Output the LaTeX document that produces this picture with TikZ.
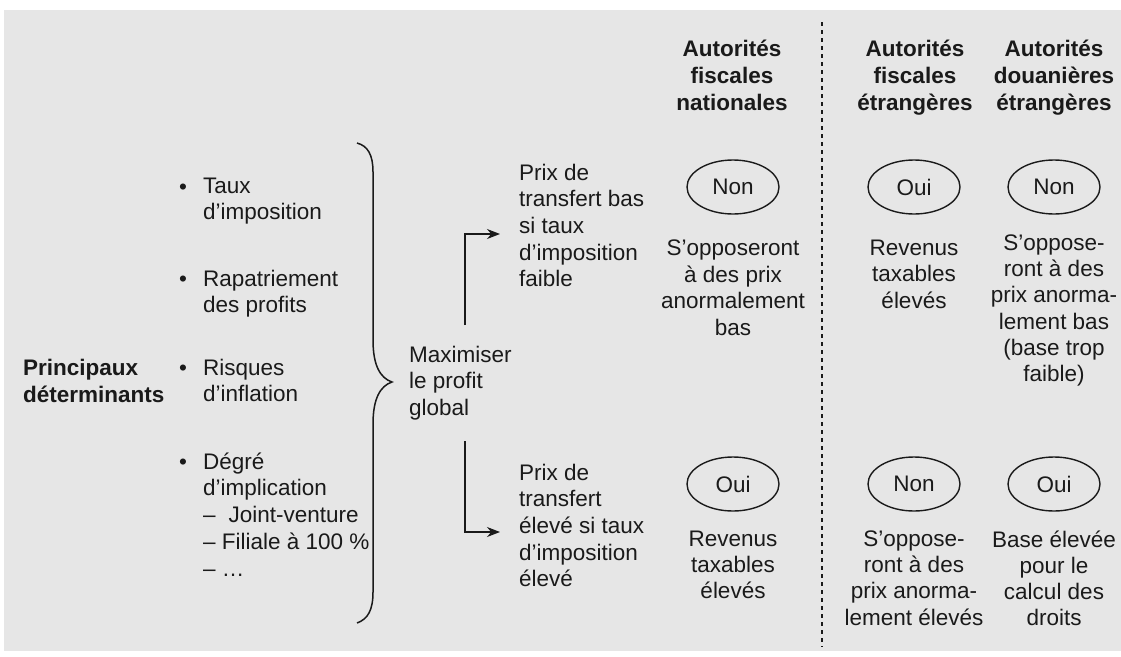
\documentclass[tikz,border=0pt]{standalone}
\usepackage{fontspec}
\setmainfont{Liberation Sans}
\usetikzlibrary{arrows.meta,shapes.geometric}
\definecolor{panel}{HTML}{E6E6E6}
\definecolor{ink}{HTML}{1A1A1A}
\begin{document}
\begin{tikzpicture}[x=1pt,y=-1pt,
  every node/.style={text=ink},
  txt/.style={inner sep=0pt, font=\fontsize{22.5}{26.7}\selectfont},
  lefttxt/.style={txt, align=left, anchor=north west},
  ctxt/.style={txt, align=center, anchor=north},
  tightctxt/.style={ctxt, font=\fontsize{22.5}{26.2}\selectfont},
  boldtxt/.style={txt, font=\fontsize{22.5}{27}\selectfont\bfseries},
  head/.style={boldtxt, align=center, anchor=north},
  bullet/.style={txt, anchor=base},
  answer/.style={draw=ink, ellipse, line width=1.4pt, minimum width=92pt,
    minimum height=54pt, inner sep=0pt, font=\fontsize{22.5}{27}\selectfont},
  link/.style={draw=ink, line width=1.2pt, -{Stealth[length=13pt,width=10pt]}},
]
\useasboundingbox (0,0) rectangle (1121,656);
\fill[panel] (4,10) rectangle (1121,651);

% separator between national and foreign authorities
\draw[ink, line width=2pt, dash pattern=on 4pt off 4pt] (822,22) -- (822,647);

% left: main determinants
\node[boldtxt, align=left, anchor=north west] (det) at (23,358.5) {Principaux\\déterminants};

\node[bullet] (b1) at (183,194) {•};
\node[lefttxt] (i1) at (203,177.5) {Taux\\d’imposition};
\node[bullet] (b2) at (183,286) {•};
\node[lefttxt] (i2) at (203,269.5) {Rapatriement\\des profits};
\node[bullet] (b3) at (183,375) {•};
\node[lefttxt] (i3) at (203,358.5) {Risques\\d’inflation};
\node[bullet] (b4) at (183,469) {•};
\node[lefttxt] (i4) at (203,452.5) {Dégré\\d’implication\\–\hspace{0.3em} Joint-venture\\– Filiale à 100 \%\\– …};

% brace gathering the determinants
\draw[ink, line width=1.5pt] (357,143) .. controls (368,146) and (373,155) .. (373,172)
  -- (373,340) .. controls (373,365) and (380,378) .. (392,382)
  .. controls (380,386) and (373,399) .. (373,424)
  -- (373,592) .. controls (373,610) and (368,619) .. (357,623);

\node[lefttxt] (maxi) at (409,345.5) {Maximiser\\le profit\\global};

% two pricing strategies
\node[lefttxt] (low) at (519,163.5) {Prix de\\transfert bas\\si taux\\d’imposition\\faible};
\node[lefttxt] (high) at (519,463.5) {Prix de\\transfert\\élevé si taux\\d’imposition\\élevé};

\coordinate (upstart) at (465,325);
\coordinate (uptip) at (500,234);
\coordinate (downstart) at (465,441);
\coordinate (downtip) at (500,532);
\draw[link] (upstart) |- (uptip);
\draw[link] (downstart) |- (downtip);

% column headings
\node[head] (h1) at (732,39.5) {Autorités\\fiscales\\nationales};
\node[head] (h2) at (915,39.5) {Autorités\\fiscales\\étrangères};
\node[head] (h3) at (1054,39.5) {Autorités\\douanières\\étrangères};

% answers for low transfer prices
\node[answer] (a11) at (733,187) {Non};
\node[answer] (a12) at (914,187) {Oui};
\node[answer] (a13) at (1054,187) {Non};
\node[ctxt] (t11) at (733,239.5) {S’opposeront\\à des prix\\anormalement\\bas};
\node[ctxt] (t12) at (914,239.5) {Revenus\\taxables\\élevés};
\node[tightctxt] (t13) at (1054,234.5) {S’oppose-\\ront à des\\prix anorma-\\lement bas\\(base trop\\faible)};

% answers for high transfer prices
\node[answer] (a21) at (733,484) {Oui};
\node[answer] (a22) at (914,484) {Non};
\node[answer] (a23) at (1054,484) {Oui};
\node[tightctxt] (t21) at (733,530.5) {Revenus\\taxables\\élevés};
\node[tightctxt] (t22) at (914,530.5) {S’oppose-\\ront à des\\prix anorma-\\lement élevés};
\node[tightctxt] (t23) at (1054,530.5) {Base élevée\\pour le\\calcul des\\droits};
\end{tikzpicture}
\end{document}
